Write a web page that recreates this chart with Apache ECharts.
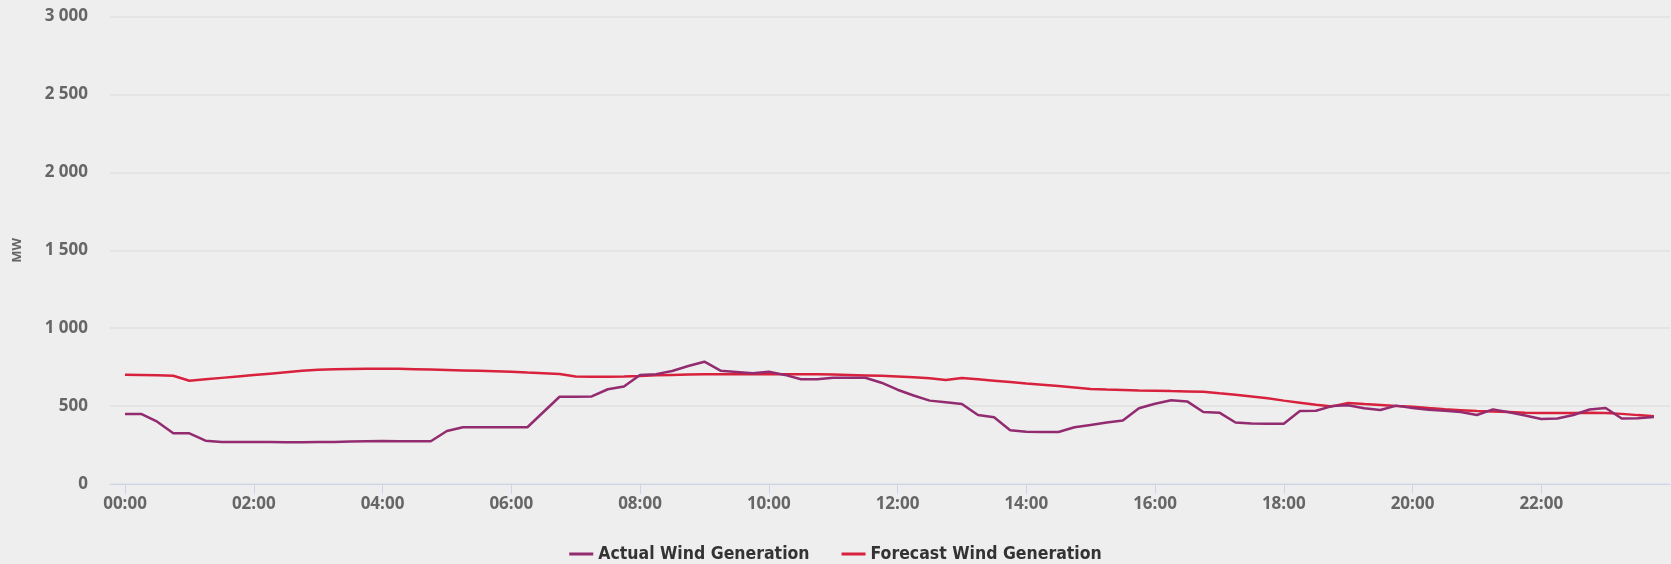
<!DOCTYPE html>
<html>
<head>
<meta charset="utf-8">
<script src="https://cdn.jsdelivr.net/npm/echarts@6/dist/echarts.min.js"></script>
<style>
  html, body { margin: 0; padding: 0; background: #eeeeee; }
  #chart { width: 1671px; height: 564px; }
</style>
</head>
<body>
<div id="chart"></div>
<script>
// 15-minute slots, 00:00 .. 23:45
const times = [];
for (let h = 0; h < 24; h++) {
  for (let m = 0; m < 60; m += 15) {
    times.push(String(h).padStart(2, '0') + ':' + String(m).padStart(2, '0'));
  }
}
const xTickLabels = ['00:00','02:00','04:00','06:00','08:00','10:00','12:00','14:00','16:00','18:00','20:00','22:00'];
const yTicks = [0, 500, 1000, 1500, 2000, 2500, 3000];

const actualWind = [
  450, 450, 400, 325, 325, 278, 270, 270,
  270, 270, 268, 268, 270, 270, 272, 274,
  276, 274, 274, 274, 340, 364, 364, 364,
  364, 364, 462, 560, 560, 562, 608, 625,
  700, 705, 725, 757, 785, 727, 719, 710,
  721, 700, 672, 672, 682, 682, 682, 650,
  605, 568, 535, 524, 513, 443, 428, 345,
  336, 334, 334, 364, 379, 394, 407, 486,
  515, 538, 530, 462, 458, 395, 389, 387,
  387, 468, 470, 500, 505, 486, 475, 503,
  488, 476, 470, 462, 443, 479, 460, 440,
  417, 420, 443, 478, 488, 420, 422, 430
];
const forecastWind = [
  701, 700, 698, 695, 663, 672, 681, 690,
  699, 708, 717, 726, 733, 736, 738, 739,
  740, 739, 737, 735, 732, 729, 726, 723,
  720, 715, 711, 706, 690, 689, 689, 690,
  693, 698, 700, 702, 704, 704, 704, 704,
  704, 705, 705, 704, 702, 700, 697, 694,
  690, 685, 678, 668, 680, 672, 663, 654,
  645, 637, 629, 620, 610, 606, 603, 600,
  599, 596, 594, 592, 582, 573, 562, 550,
  535, 522, 508, 498, 520, 513, 507, 501,
  496, 487, 480, 474, 468, 465, 462, 458,
  455, 455, 456, 458, 456, 450, 442, 435
];

function toMin(s) { const p = s.split(':'); return (+p[0]) * 60 + (+p[1]); }
function fmtMin(v) {
  const h = Math.floor(v / 60), m = v % 60;
  return String(h).padStart(2, '0') + ':' + String(m).padStart(2, '0');
}
function fmtThousands(v) {
  return String(v).replace(/\B(?=(\d{3})+(?!\d))/g, ' ');
}

const xTickMins = xTickLabels.map(toMin);
const actualData = times.map((t, i) => [toMin(t), actualWind[i]]);
const forecastData = times.map((t, i) => [toMin(t), forecastWind[i]]);

const chart = echarts.init(document.getElementById('chart'));
const labelFont = { color: '#666666', fontSize: 17, fontWeight: 'bold', fontFamily: 'Open Sans, DejaVu Sans, sans-serif' };

chart.setOption({
  backgroundColor: '#eeeeee',
  animation: false,
  grid: { left: 110, right: 1, top: 16.5, bottom: 80, containLabel: false },
  xAxis: {
    type: 'value',
    min: -14,
    max: 1440,
    axisLine: { show: true, lineStyle: { color: '#ccd6eb', width: 1 } },
    axisTick: { show: true, length: 10, lineStyle: { color: '#ccd6eb' }, customValues: xTickMins },
    axisLabel: Object.assign({ margin: 12, customValues: xTickMins, formatter: fmtMin }, labelFont),
    splitLine: { show: false }
  },
  yAxis: {
    type: 'value',
    min: 0,
    max: 3000,
    interval: 500,
    name: 'MW',
    nameLocation: 'middle',
    nameGap: 86,
    nameRotate: 90,
    nameTextStyle: { color: '#666666', fontSize: 13, fontWeight: 'bold', fontFamily: 'Open Sans, DejaVu Sans, sans-serif' },
    axisLine: { show: false },
    axisTick: { show: false },
    axisLabel: Object.assign({ margin: 22, formatter: fmtThousands }, labelFont),
    splitLine: { show: true, lineStyle: { color: '#e0e0e0', width: 1.5 } }
  },
  legend: {
    bottom: -4,
    left: 'center',
    icon: 'rect',
    itemWidth: 24,
    itemHeight: 3,
    itemGap: 32,
    textStyle: { color: '#333333', fontSize: 17.5, fontWeight: 'bold', fontFamily: 'Liberation Sans Narrow, DejaVu Sans Condensed, sans-serif' },
    data: ['Actual Wind Generation', 'Forecast Wind Generation']
  },
  series: [
    {
      name: 'Forecast Wind Generation',
      type: 'line',
      data: forecastData,
      symbol: 'none',
      lineStyle: { color: '#d8213d', width: 2.5 },
      itemStyle: { color: '#d8213d' },
      z: 2
    },
    {
      name: 'Actual Wind Generation',
      type: 'line',
      data: actualData,
      symbol: 'none',
      lineStyle: { color: '#922b6f', width: 2.5 },
      itemStyle: { color: '#922b6f' },
      z: 3
    }
  ]
});
</script>
</body>
</html>
